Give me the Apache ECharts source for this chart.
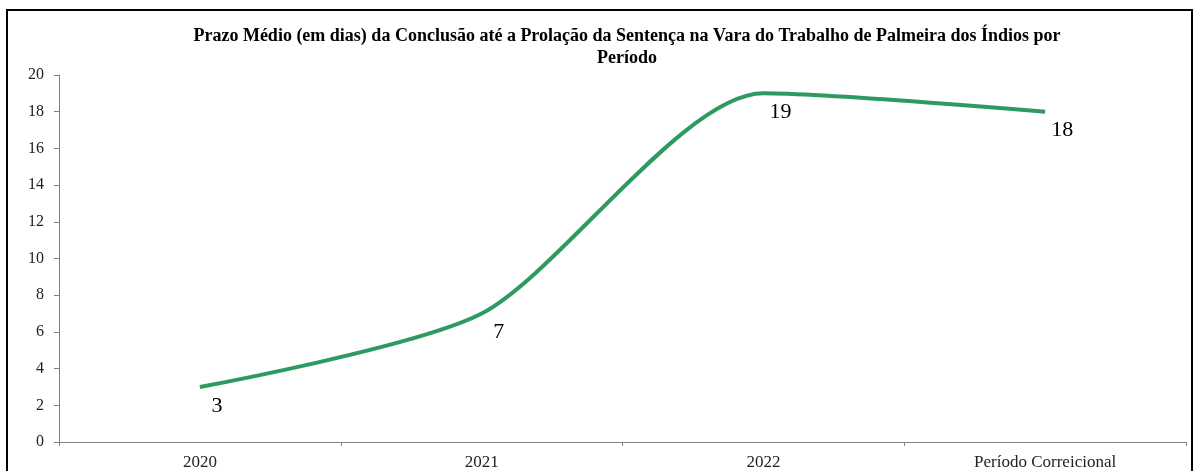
<!DOCTYPE html>
<html>
<head>
<meta charset="utf-8">
<script src="https://cdn.jsdelivr.net/npm/echarts@6/dist/echarts.min.js"></script>
<style>
  html, body { margin: 0; padding: 0; background: #fff; }
  #chart { width: 1197px; height: 471px; }
</style>
</head>
<body>
<div id="chart"></div>
<script>
// dados do gráfico
var periodos = ['2020', '2021', '2022', 'Período Correicional'];
var prazoMedio = [3, 7, 19, 18];
var yMin = 0, yMax = 20, yStep = 2;

var chart = echarts.init(document.getElementById('chart'));

var option = {
  animation: false,
  title: {
    text: 'Prazo Médio (em dias) da Conclusão até a Prolação da Sentença na Vara do Trabalho de Palmeira dos Índios por\nPeríodo',
    left: 622,
    top: 20,
    textAlign: 'center',
    textStyle: {
      fontFamily: 'Liberation Serif',
      fontWeight: 'bold',
      fontSize: 18,
      lineHeight: 22,
      color: '#000'
    }
  },
  graphic: [{
    type: 'rect',
    shape: { x: 7, y: 10, width: 1185, height: 470 },
    style: { fill: 'none', stroke: '#000', lineWidth: 2 },
    silent: true
  }],
  grid: { //área do gráfico
    left: 59,
    right: 11,
    top: 75,
    bottom: 28
  },
  xAxis: {
    type: 'category',
    data: periodos,
    boundaryGap: true,
    axisLine: { lineStyle: { color: '#808080', width: 1 } },
    axisTick: { show: true, alignWithLabel: false, length: 4, lineStyle: { color: '#808080' } },
    axisLabel: {
      fontFamily: 'Liberation Serif',
      fontSize: 17,
      color: '#222',
      margin: 12
    }
  },
  yAxis: {
    type: 'value',
    min: yMin,
    max: yMax,
    interval: yStep,
    splitLine: { show: false },
    axisLine: { show: true, lineStyle: { color: '#808080', width: 1 } },
    axisTick: { show: true, length: 5, lineStyle: { color: '#808080' } },
    axisLabel: {
      fontFamily: 'Liberation Serif',
      fontSize: 16,
      color: '#222',
      margin: 15
    }
  },
  series: [{
    name: 'Prazo Médio',
    type: 'line',
    smooth: 0.25,
    data: prazoMedio,
    symbol: 'circle',
    symbolSize: 2,
    showSymbol: true,
    itemStyle: { color: 'rgba(46,154,98,0)', borderWidth: 0 },
    lineStyle: { color: '#2E9A62', width: 4 },
    label: {
      show: true,
      position: 'bottom',
      distance: 4,
      offset: [17, 3],
      fontFamily: 'Liberation Serif',
      fontSize: 22,
      color: '#000'
    }
  }]
};

chart.setOption(option);
</script>
</body>
</html>
